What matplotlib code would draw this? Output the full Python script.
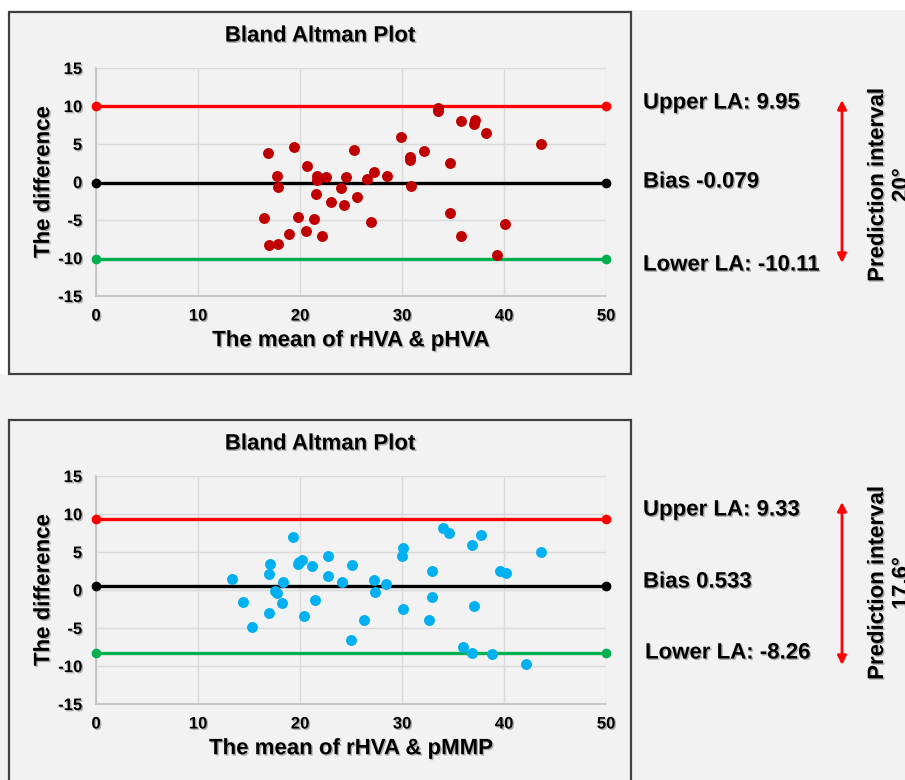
import numpy as np
import matplotlib.pyplot as plt
import matplotlib.patheffects as pe
from matplotlib.patches import Rectangle, FancyArrowPatch

plt.rcParams['font.family'] = ['Liberation Sans', 'DejaVu Sans']
plt.rcParams['font.weight'] = 'bold'
plt.rcParams['axes.unicode_minus'] = False

# upper panel: rHVA vs pHVA
hva_mean = [33.5, 33.5, 35.8, 37.2, 37.1, 38.2, 43.6, 29.9, 16.9, 19.4, 25.3,
            32.2, 30.8, 30.8, 34.7, 20.7, 17.7, 21.7, 22.5, 21.7, 24.5, 26.6,
            27.3, 28.5, 17.8, 24.0, 30.9, 21.6, 23.0, 24.3, 25.6, 16.5, 19.8,
            21.4, 27.0, 18.9, 20.6, 22.2, 17.0, 17.8, 34.7, 35.8, 40.1, 39.3]
hva_diff = [9.75, 9.3, 8.0, 8.2, 7.6, 6.4, 5.05, 5.9, 3.8, 4.65, 4.2,
            4.1, 3.3, 2.95, 2.5, 2.05, 0.8, 0.83, 0.6, 0.2, 0.6, 0.35,
            1.3, 0.75, -0.66, -0.75, -0.53, -1.54, -2.64, -3.03, -1.98, -4.75, -4.57,
            -4.88, -5.3, -6.8, -6.46, -7.07, -8.26, -8.17, -4.04, -7.07, -5.54, -9.62]
hva_limits = [9.95, -0.079, -10.11]   # upper LA, bias, lower LA
hva_labels = ['Upper LA: 9.95', 'Bias -0.079', 'Lower LA: -10.11']
hva_interval = 'Prediction interval\n20°'

# lower panel: rHVA vs pMMP
mmp_mean = [19.35, 34.0, 34.6, 37.7, 36.9, 43.6, 30.1, 30.0, 22.7, 20.2, 19.9,
            19.8, 17.1, 21.2, 25.1, 32.9, 39.6, 40.2, 17.0, 13.3, 22.75, 18.3,
            24.1, 27.3, 28.4, 17.5, 17.7, 27.4, 14.4, 18.2, 21.5, 32.9, 17.0,
            20.4, 30.1, 37.1, 15.3, 26.3, 32.6, 25.0, 36.0, 36.9, 38.8, 42.2]
mmp_diff = [7.0, 8.2, 7.5, 7.3, 5.9, 5.0, 5.5, 4.5, 4.5, 4.0, 3.7,
            3.4, 3.4, 3.1, 3.3, 2.5, 2.5, 2.25, 2.17, 1.5, 1.8, 1.07,
            1.07, 1.38, 0.81, -0.11, -0.37, -0.2, -1.6, -1.69, -1.25, -0.9, -3.0,
            -3.4, -2.52, -2.17, -4.9, -4.0, -4.0, -6.55, -7.5, -8.3, -8.4, -9.8]
mmp_limits = [9.33, 0.533, -8.26]
mmp_labels = ['Upper LA: 9.33', 'Bias 0.533', 'Lower LA: -8.26']
mmp_interval = 'Prediction interval\n17.6°'

W, H = 905, 780
fig = plt.figure(figsize=(W / 100, H / 100), dpi=100, facecolor='#f2f2f2')
shadow = [pe.withSimplePatchShadow(offset=(1, -1), shadow_rgbFace='0.35', alpha=0.45)]


def fx(px):
    return px / W


def fy(py):
    return 1 - py / H


# white strips of the slide behind the first box
fig.add_artist(Rectangle((0, fy(10)), 1, 10 / H, transform=fig.transFigure,
                         facecolor='white', edgecolor='none', zorder=-5))
fig.add_artist(Rectangle((0, fy(374)), fx(9), 364 / H, transform=fig.transFigure,
                         facecolor='white', edgecolor='none', zorder=-5))


def panel(top, mean, diff, limits, color, xlabel, labels, label_y, label_x,
          interval, arrow_y, interval_y):
    # outer frame
    fig.add_artist(Rectangle((fx(9), fy(top + 362)), fx(622), 362 / H,
                             transform=fig.transFigure, facecolor='#f2f2f2',
                             edgecolor='#404040', lw=1.6, zorder=-1))
    ax = fig.add_axes([fx(96), fy(top + 284), fx(510), 228 / H])
    ax.set_facecolor('#f2f2f2')
    ax.set_xlim(0, 50)
    ax.set_ylim(-15, 15)
    ax.set_xticks(np.arange(0, 51, 10))
    ax.set_yticks(np.arange(-15, 16, 5))
    ax.grid(color='#d9d9d9', lw=1)
    ax.set_axisbelow(True)
    for s in ['top', 'right']:
        ax.spines[s].set_visible(False)
    for s in ['left', 'bottom']:
        ax.spines[s].set_color('#bfbfbf')
        ax.spines[s].set_linewidth(1.2)
    ax.tick_params(length=0, labelsize=12, pad=9)
    ax.tick_params(axis='y', pad=10)
    for t in ax.get_xticklabels() + ax.get_yticklabels():
        t.set_fontweight('bold')
        t.set_path_effects(shadow)

    for val, c in zip(limits, ['#ff0000', 'black', '#00b050']):
        ax.plot([0, 50], [val, val], color=c, lw=2.4, marker='o', ms=6,
                clip_on=False, zorder=3)
    ax.scatter(mean, diff, s=62, color=color, zorder=4, linewidths=0)

    ax.set_xlabel(xlabel, fontsize=16, fontweight='bold', path_effects=shadow)
    ax.xaxis.set_label_coords(0.5, -0.15)
    ax.set_ylabel('The difference', fontsize=16, fontweight='bold', path_effects=shadow)
    ax.yaxis.set_label_coords(-0.082, 0.5)
    fig.text(fx(320), fy(top + 24), 'Bland Altman Plot', fontsize=16,
             fontweight='bold', ha='center', va='center', path_effects=shadow)

    for txt, ty, tx in zip(labels, label_y, label_x):
        fig.text(fx(tx), fy(ty), txt, fontsize=16, fontweight='bold',
                 ha='left', va='center', path_effects=shadow)
    fig.add_artist(FancyArrowPatch((fx(842), fy(arrow_y[0])), (fx(842), fy(arrow_y[1])),
                                   transform=fig.transFigure, arrowstyle='<|-|>',
                                   mutation_scale=13, color='#ff0000', lw=2,
                                   shrinkA=0, shrinkB=0))
    fig.text(fx(867), fy(interval_y), interval, fontsize=16, fontweight='bold',
             rotation=90, ha='left', va='center', multialignment='center',
             path_effects=shadow)
    return ax


panel(12, hva_mean, hva_diff, hva_limits, '#c00000', 'The mean of rHVA & pHVA',
      hva_labels, [103, 182, 265], [643, 643, 643], hva_interval, (100, 263), 185)
panel(420, mmp_mean, mmp_diff, mmp_limits, '#00b0f0', 'The mean of rHVA & pMMP',
      mmp_labels, [510, 582, 653], [643, 643, 645], mmp_interval, (502, 665), 583)

fig.savefig('out.png', dpi=100, facecolor=fig.get_facecolor())
